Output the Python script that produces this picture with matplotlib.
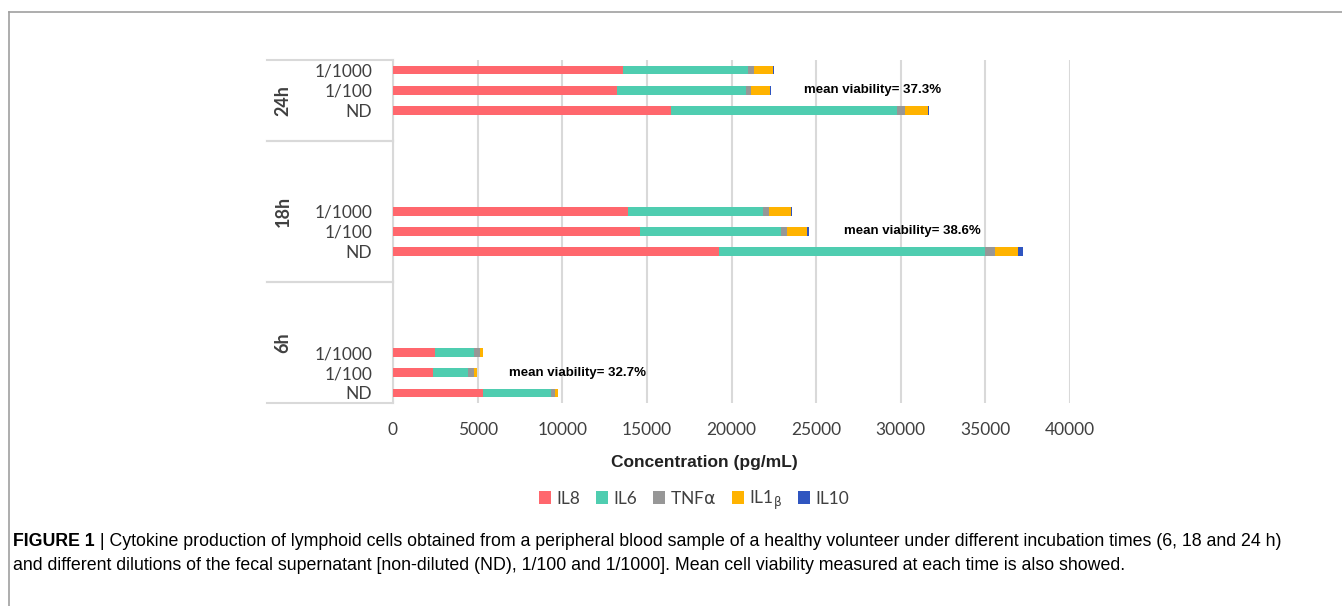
import matplotlib.pyplot as plt
from matplotlib.lines import Line2D
from matplotlib.patches import Patch
import numpy as np

# categories (top to bottom)
groups = ['24h', '18h', '6h']
dilutions = ['1/1000', '1/100', 'ND']
cytokines = ['IL8', 'IL6', r'TNF$\mathrm{\alpha}$', r'IL1$_\mathrm{\beta}$', 'IL10']
colors = ['#FF676D', '#4FCDB0', '#979797', '#FFB300', '#2F55C0']

# concentrations (pg/mL), rows: 24h 1/1000, 1/100, ND, 18h ..., 6h ...
il8 = [13600, 13220, 16420, 13900, 14590, 19260, 2500, 2360, 5300]
il6 = [7390, 7620, 13340, 7980, 8330, 15710, 2270, 2070, 4040]
tnfa = [355, 300, 490, 355, 340, 610, 370, 355, 220]
il1b = [1120, 1140, 1380, 1300, 1200, 1360, 200, 180, 180]
il10 = [25, 40, 50, 50, 120, 260, 0, 0, 0]

viability = [37.3, 38.6, 32.7]

cap_font = 'Liberation Sans'
tick_font = 'Lato'

W, H = 1342, 606
fig = plt.figure(figsize=(W / 100, H / 100), dpi=100)
ax = fig.add_axes([393 / W, 1 - 403 / H, 677 / W, 343 / H])

# row layout: groups separated by empty category slots
group_start = [0, 7, 14]
group_span = [(-0.5, 3.5), (3.5, 10.5), (10.5, 16.5)]
rows = []
for g in group_start:
    rows += [g, g + 1, g + 2]
rows = np.array(rows)

series = [il8, il6, tnfa, il1b, il10]
left = np.zeros(len(rows))
for vals, c in zip(series, colors):
    vals = np.array(vals, dtype=float)
    ax.barh(rows, vals, left=left, height=0.42, color=c, zorder=3)
    left += vals

ax.set_xlim(0, 40000)
ax.set_ylim(16.5, -0.5)
ax.set_xticks(np.arange(0, 40001, 5000))
ax.xaxis.grid(True, color='#D9D9D9', linewidth=1.5, zorder=0)
ax.set_yticks(rows)
ax.set_yticklabels(dilutions * 3)
ax.tick_params(axis='y', length=0, pad=15, labelsize=12.5, colors='#404040')
ax.tick_params(axis='x', length=0, pad=14, labelsize=12.5, colors='#404040')
for lab in ax.get_xticklabels() + ax.get_yticklabels():
    lab.set_fontfamily(tick_font)
for sp in ['top', 'right', 'bottom']:
    ax.spines[sp].set_visible(False)
ax.spines['left'].set_color('#D9D9D9')
ax.spines['left'].set_linewidth(1.5)

# multi-level category separators and group labels
trans = ax.get_yaxis_transform()
x0 = (267 - 393) / 677
for top, bot in group_span:
    for y in (top, bot):
        ax.plot([x0, 0], [y, y], transform=trans, color='#D9D9D9', lw=1.5, clip_on=False)
for name, (top, bot) in zip(groups, group_span):
    ax.text((283 - 393) / 677, (top + bot) / 2, name, transform=trans, rotation=90,
            ha='center', va='center', fontsize=13, fontweight='bold',
            family=tick_font, color='#404040')

# viability notes
note_x = [24280, 26650, 6850]
note_row = [1, 8, 15]
for v, xv, r in zip(viability, note_x, note_row):
    ax.text(xv, r, 'mean viability= %.1f%%' % v, ha='left', va='center',
            fontsize=9.5, fontweight='bold', family='Liberation Sans')

fig.text(704 / W, 1 - 462 / H, 'Concentration (pg/mL)', ha='center', va='center',
         fontsize=12.5, fontweight='bold', family='Liberation Sans', color='#222222')

handles = [Patch(facecolor=c, edgecolor='none') for c in colors]
leg = fig.legend(handles, cytokines, loc='center', bbox_to_anchor=(694 / W, 1 - 500 / H),
                 ncol=5, frameon=False, handlelength=0.7, handleheight=0.7,
                 columnspacing=0.9, handletextpad=0.3,
                 prop={'family': tick_font, 'size': 12.5})
for t in leg.get_texts():
    t.set_color('#404040')

# figure frame (top and left rules)
fig.add_artist(Line2D([9 / W, 1], [1 - 12 / H, 1 - 12 / H], color='#A0A0A0', lw=1.2))
fig.add_artist(Line2D([9 / W, 9 / W], [0, 1 - 12 / H], color='#A0A0A0', lw=1.2))

# caption
cap_size = 12.8
t1 = fig.text(13 / W, 1 - 541 / H, 'FIGURE 1', ha='left', va='center',
              fontsize=cap_size, fontweight='bold', family=cap_font)
ax.annotate(' | Cytokine production of lymphoid cells obtained from a peripheral blood sample '
            'of a healthy volunteer under different incubation times (6, 18 and 24 h)',
            xy=(1, 0.5), xycoords=t1, ha='left', va='center',
            fontsize=cap_size, family=cap_font, annotation_clip=False)
fig.text(13 / W, 1 - 566 / H, 'and different dilutions of the fecal supernatant [non-diluted (ND), '
         '1/100 and 1/1000]. Mean cell viability measured at each time is also showed.',
         ha='left', va='center', fontsize=cap_size, family=cap_font)

fig.savefig('out.png', dpi=100)
